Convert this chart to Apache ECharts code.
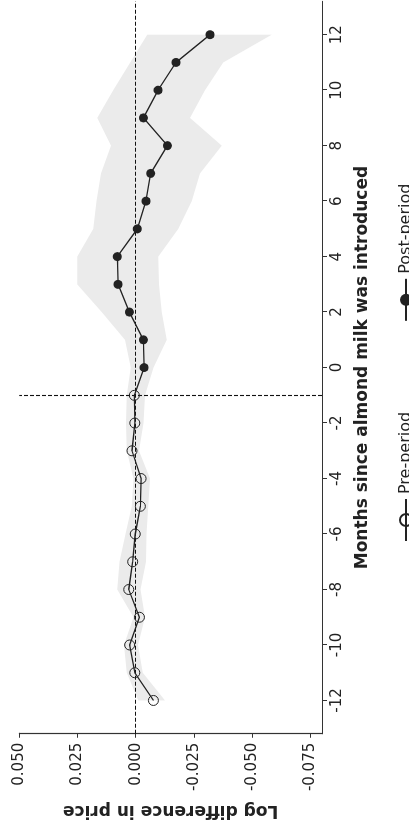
<!DOCTYPE html>
<html>
<head>
<meta charset="utf-8">
<script src="https://cdn.jsdelivr.net/npm/echarts@6/dist/echarts.min.js"></script>
<style>
  html, body { margin: 0; padding: 0; background: #fff; overflow: hidden; }
  body { width: 409px; height: 827px; position: relative; }
  /* the chart is laid out landscape and turned a quarter-turn counter-clockwise */
  #chart {
    position: absolute; left: 0; top: 0;
    width: 827px; height: 409px;
    transform-origin: 0 0;
    transform: translate(0px, 827px) rotate(-90deg);
  }
</style>
</head>
<body>
<div id="chart"></div>
<script>
// Event-study estimates: months relative to almond milk introduction
const preMonths  = [-12, -11, -10, -9, -8, -7, -6, -5, -4, -3, -2, -1];
const preValues  = [-0.0076, 0.0004, 0.0026, -0.0016, 0.0030, 0.0013, 0.0002, -0.0020, -0.0023, 0.0016, 0.0004, 0.0006];
const postMonths = [0, 1, 2, 3, 4, 5, 6, 7, 8, 9, 10, 11, 12];
const postValues = [-0.0036, -0.0033, 0.0027, 0.0076, 0.0079, -0.0007, -0.0044, -0.0064, -0.0136, -0.0033, -0.0096, -0.0173, -0.0319];

// Confidence band around the estimates
const bandMonths = [-12, -11, -10, -9, -8, -7, -6, -5, -4, -3, -2, -1, 0, 1, 2, 3, 4, 5, 6, 7, 8, 9, 10, 11, 12];
const bandUpper  = [-0.0011, 0.0039, 0.0050, 0.0010, 0.0079, 0.0070, 0.0044, 0.0017, 0.0010, 0.0039, 0.0042, 0.0039,
                    0.0021, 0.0046, 0.0146, 0.0251, 0.0251, 0.0182, 0.0168, 0.0149, 0.0106, 0.0165, 0.0096, 0.0024, -0.0050];
const bandLower  = [-0.0126, -0.0030, -0.0010, -0.0040, -0.0021, -0.0044, -0.0046, -0.0054, -0.0061, -0.0014, -0.0033, -0.0040,
                    -0.0076, -0.0133, -0.0112, -0.0100, -0.0097, -0.0183, -0.0241, -0.0276, -0.0369, -0.0233, -0.0298, -0.0376, -0.0584];

const monthTicks = [-12, -10, -8, -6, -4, -2, 0, 2, 4, 6, 8, 10, 12];
const valueTicks = [-0.075, -0.05, -0.025, 0, 0.025, 0.05];
const eventMonth = -1;

const FONT = 'DejaVu Sans';
const INK = '#222';

const chart = echarts.init(document.getElementById('chart'), null, { renderer: 'canvas' });

chart.setOption({
  animation: false,
  backgroundColor: '#fff',
  grid: { left: 85.7, right: 1.4, top: 19.3, bottom: 87 },
  legend: {
    data: ['Pre-period', 'Post-period'],
    left: 280, top: 393,
    itemWidth: 42, itemHeight: 15, itemGap: 90,
    textStyle: { fontFamily: FONT, fontSize: 16, color: INK },
    selectedMode: false
  },
  xAxis: {
    type: 'value', min: -13.2, max: 13.2,
    name: 'Months since almond milk was introduced',
    nameLocation: 'middle', nameGap: 32,
    nameTextStyle: { fontFamily: FONT, fontSize: 17, fontWeight: 'bold', color: INK },
    axisLine: { onZero: false, lineStyle: { color: '#333', width: 1.2 } },
    axisTick: { show: true, length: 5, customValues: monthTicks, lineStyle: { color: '#333', width: 1 } },
    axisLabel: { customValues: monthTicks, margin: 8, fontFamily: FONT, fontSize: 15, color: INK,
                 formatter: v => String(Math.round(v)) },
    splitLine: { show: false }
  },
  yAxis: {
    type: 'value', min: -0.08, max: 0.05,
    name: 'Log difference in price',
    nameLocation: 'middle', nameRotate: 90, nameGap: 61,
    nameTextStyle: { fontFamily: FONT, fontSize: 17, fontWeight: 'bold', color: INK },
    axisLine: { show: true, onZero: false, lineStyle: { color: '#333', width: 1.2 } },
    axisTick: { show: true, length: 4, customValues: valueTicks, lineStyle: { color: '#333', width: 1 } },
    axisLabel: { customValues: valueTicks, margin: 9, fontFamily: FONT, fontSize: 15, color: INK,
                 formatter: v => v.toFixed(3) },
    splitLine: { show: false }
  },
  series: [
    {
      // shaded confidence band drawn as one polygon
      name: 'band', type: 'custom', z: 1, silent: true,
      data: bandMonths.map((m, i) => [m, bandUpper[i], bandLower[i]]),
      encode: { x: 0, y: [1, 2] },
      renderItem: function (params, api) {
        if (params.dataIndex !== 0) return;
        const pts = [];
        for (let i = 0; i < bandMonths.length; i++) pts.push(api.coord([bandMonths[i], bandUpper[i]]));
        for (let i = bandMonths.length - 1; i >= 0; i--) pts.push(api.coord([bandMonths[i], bandLower[i]]));
        return { type: 'polygon', shape: { points: pts }, style: { fill: '#ebebeb' } };
      }
    },
    {
      name: 'Pre-period', type: 'line', z: 4,
      data: preMonths.map((m, i) => [m, preValues[i]]),
      symbol: 'circle', symbolSize: 10,
      itemStyle: { color: 'rgba(255,255,255,0)', borderColor: INK, borderWidth: 1 },
      lineStyle: { color: INK, width: 1.3 },
      markLine: {
        silent: true, symbol: ['none', 'none'], z: 3,
        label: { show: false },
        lineStyle: { color: '#111', width: 1.1, type: [4, 2] },
        data: [{ xAxis: eventMonth }, { yAxis: 0 }]
      }
    },
    {
      name: 'Post-period', type: 'line', z: 4,
      data: [{ value: [preMonths[preMonths.length - 1], preValues[preValues.length - 1]], symbol: 'none' }]
        .concat(postMonths.map((m, i) => [m, postValues[i]])),
      symbol: 'circle', symbolSize: 9,
      itemStyle: { color: INK },
      lineStyle: { color: INK, width: 1.3 }
    }
  ]
});
</script>
</body>
</html>
